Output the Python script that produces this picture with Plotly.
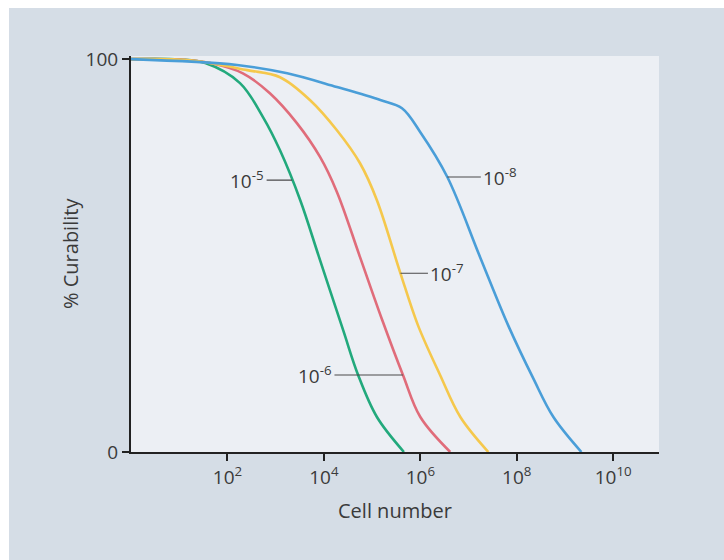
import numpy as np
import plotly.graph_objects as go

# Curability vs. tumour cell number for four mutation rates.
# x values are given as log10(cell number); y values in percent.
rate_labels = ["10<sup>-5</sup>", "10<sup>-6</sup>", "10<sup>-7</sup>", "10<sup>-8</sup>"]
rate_colors = ["#22a97c", "#e06c7a", "#f5c84c", "#4a9ed8"]

log_cells_e5 = [0.0, 1.02, 1.54, 2.26, 2.74, 3.09, 3.51, 3.90, 4.40, 4.71, 5.10, 5.66]
curab_e5 = [100, 99.9, 99.0, 93.9, 85.2, 76.8, 64.1, 49.6, 31.0, 19.6, 8.9, 0]

log_cells_e6 = [0.0, 1.02, 1.64, 2.32, 2.88, 3.44, 3.92, 4.27, 4.75, 5.21, 5.64, 6.00, 6.62]
curab_e6 = [100, 99.9, 99.0, 96.4, 91.3, 83.7, 75.1, 66.2, 49.6, 33.6, 19.6, 8.9, 0]

log_cells_e7 = [0.0, 1.22, 2.41, 3.09, 3.71, 4.27, 4.75, 5.10, 5.58, 5.95, 6.41, 6.83, 7.41]
curab_e7 = [100, 99.7, 97.2, 95.4, 89.6, 81.9, 73.5, 64.1, 45.8, 32.3, 19.6, 8.9, 0]

log_cells_e8 = [0.0, 2.20, 3.24, 4.27, 5.17, 5.62, 6.00, 6.56, 7.24, 7.82, 8.34, 8.76, 9.34]
curab_e8 = [100, 98.5, 96.4, 92.9, 89.6, 87.5, 81.4, 70.0, 49.6, 32.3, 18.8, 8.9, 0]

x_tick_exps = [2, 4, 6, 8, 10]
x_tick_text = ["10<sup>%d</sup>" % e for e in x_tick_exps]
y_tick_vals = [0, 100]

series = [
    (log_cells_e5, curab_e5),
    (log_cells_e6, curab_e6),
    (log_cells_e7, curab_e7),
    (log_cells_e8, curab_e8),
]

FONT = "'Open Sans', Lato, sans-serif"
TEXT_COLOR = "#3a3a3a"
PANEL = "#d5dde6"
PLOT_BG = "#eceff4"

W, H = 724, 560
ML, MR, MT, MB = 131, 65, 56, 108

fig = go.Figure()
for (lx, cy), color, name in zip(series, rate_colors, rate_labels):
    fig.add_trace(go.Scatter(
        x=10 ** np.array(lx), y=cy, mode="lines", name=name,
        line=dict(color=color, width=2.6, shape="spline", smoothing=1.0),
        hoverinfo="skip", showlegend=False,
    ))

# Leader-line labels: curve index, curability level where the leader
# meets the curve, and horizontal text offset in pixels
label_specs = [
    (0, 69.2, -45),
    (1, 19.6, -88),
    (2, 45.5, 47),
    (3, 70.0, 53),
]
annotations = []
for si, level, ax in label_specs:
    lx, cy = series[si]
    px = float(np.interp(level, cy[::-1], lx[::-1]))
    annotations.append(dict(
        x=px, y=level, xref="x", yref="y", text=rate_labels[si],
        showarrow=True, arrowhead=0, arrowwidth=1.1, arrowcolor="#4a4a4a",
        ax=ax, ay=0, standoff=0, startstandoff=1,
        font=dict(family=FONT, size=19, color=TEXT_COLOR),
    ))

# Axis titles
annotations.append(dict(
    x=0.5, y=-0.148, xref="paper", yref="paper", text="Cell number",
    showarrow=False, xanchor="center", yanchor="middle",
    font=dict(family=FONT, size=20, color=TEXT_COLOR),
))
annotations.append(dict(
    x=(70 - ML) / (W - ML - MR), y=0.5, xref="paper", yref="paper",
    text="% Curability", textangle=-90, showarrow=False,
    xanchor="center", yanchor="middle",
    font=dict(family=FONT, size=20, color=TEXT_COLOR),
))

# White strips along the top and left edges of the panel
pw, ph = W - ML - MR, H - MT - MB
shapes = [
    dict(type="rect", xref="paper", yref="paper", layer="above",
         x0=-ML / pw, x1=(W - ML) / pw, y0=(H - MB - 8) / ph, y1=(H - MB) / ph,
         fillcolor="white", line=dict(width=0)),
    dict(type="rect", xref="paper", yref="paper", layer="above",
         x0=-ML / pw, x1=(9 - ML) / pw, y0=-MB / ph, y1=(H - MB) / ph,
         fillcolor="white", line=dict(width=0)),
]

fig.update_layout(
    width=W, height=H,
    margin=dict(l=ML, r=MR, t=MT, b=MB),
    paper_bgcolor=PANEL, plot_bgcolor=PLOT_BG,
    font=dict(family=FONT, size=19, color=TEXT_COLOR),
    annotations=annotations, shapes=shapes,
    xaxis=dict(
        type="log", range=[0, 10.95],
        tickvals=[10 ** e for e in x_tick_exps], ticktext=x_tick_text,
        ticks="outside", ticklen=7, tickwidth=1.6, tickcolor="#222",
        showline=True, linecolor="#222", linewidth=2,
        showgrid=False, zeroline=False,
        tickfont=dict(family=FONT, size=19, color=TEXT_COLOR),
    ),
    yaxis=dict(
        range=[0, 100.8], tickvals=y_tick_vals, ticktext=["0", "100"],
        ticks="outside", ticklen=7, tickwidth=1.6, tickcolor="#222",
        showline=True, linecolor="#222", linewidth=2,
        showgrid=False, zeroline=False,
        tickfont=dict(family=FONT, size=19, color=TEXT_COLOR),
    ),
)

fig.write_html("out.html")
